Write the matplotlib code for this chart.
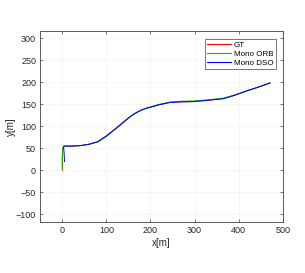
import matplotlib
matplotlib.use("Agg")
import matplotlib.pyplot as plt

# trajectories (metres)
gt_x = [0, 0, 1, 3, 20, 40, 60, 80, 100, 120, 131, 150, 160, 170, 180, 190, 199, 220, 244, 270, 297, 330, 365, 390, 418, 445, 471]
gt_y = [0, 30, 50, 55, 55, 56, 59, 65, 78, 94, 103, 119, 126, 132, 137, 140.5, 143, 149, 154, 155.5, 156, 159, 163, 170, 180, 189, 198]

orb_x = [0, 0, 1, 3, 20, 40, 60, 80, 100, 120, 131, 150, 160, 170, 180, 190, 199, 220, 244, 270, 297, 330, 365, 390, 418, 445, 471]
orb_y = [5, 30, 50, 55, 55, 56, 59, 64, 77, 93, 102, 118, 126, 132, 137.5, 141, 144, 150, 155, 157, 157.5, 160, 164, 171, 180, 189, 198]

dso_x = [5, 4, 3, 4, 20, 40, 60, 80, 100, 120, 131, 150, 160, 170, 180, 190, 199, 220, 244, 270, 297, 330, 365, 390, 418, 445, 471]
dso_y = [20, 40, 52, 55, 55, 56, 59, 65, 78, 94, 103, 119, 126, 132, 137, 140.5, 143, 149, 154, 155.5, 156, 159, 162.5, 170, 180.5, 189, 198.5]

x_ticks = [0, 100, 200, 300, 400, 500]
y_ticks = [-100, -50, 0, 50, 100, 150, 200, 250, 300]

plt.rcParams['font.family'] = ['Liberation Sans', 'DejaVu Sans']
txt = '#262626'

fig = plt.figure(figsize=(3.05, 2.73), dpi=100)
ax = fig.add_axes([0.132, 0.188, 0.795, 0.698])

ax.plot(gt_x, gt_y, color='r', lw=0.7, label='GT')
ax.plot(orb_x, orb_y, color='#00c000', lw=0.7, label='Mono ORB')
ax.plot(dso_x, dso_y, color='b', lw=0.7, label='Mono DSO')

ax.set_xlim(-50, 500)
ax.set_ylim(-116.5, 316)
ax.set_xticks(x_ticks)
ax.set_yticks(y_ticks)
ax.grid(True, linestyle=':', color='#e0e0e0', lw=0.5)
ax.tick_params(direction='in', top=True, right=True, length=2.5, width=0.5,
               labelsize=6.5, colors='#404040', labelcolor=txt, pad=3)
for sp in ax.spines.values():
    sp.set_color('#404040')
    sp.set_linewidth(0.6)

ax.set_xlabel('x[m]', fontsize=7, color=txt, labelpad=2)
ax.set_ylabel('y[m]', fontsize=7, color=txt, labelpad=0)

leg = ax.legend(loc='upper right', bbox_to_anchor=(0.972, 0.958), borderaxespad=0,
                fontsize=5.8, fancybox=False, framealpha=1, handlelength=3.0,
                handletextpad=0.3, borderpad=0.3, labelspacing=0.15)
leg.get_frame().set_edgecolor('#404040')
leg.get_frame().set_linewidth(0.5)
for h in leg.get_lines():
    h.set_linewidth(0.8)

fig.savefig('out.png', dpi=100)
